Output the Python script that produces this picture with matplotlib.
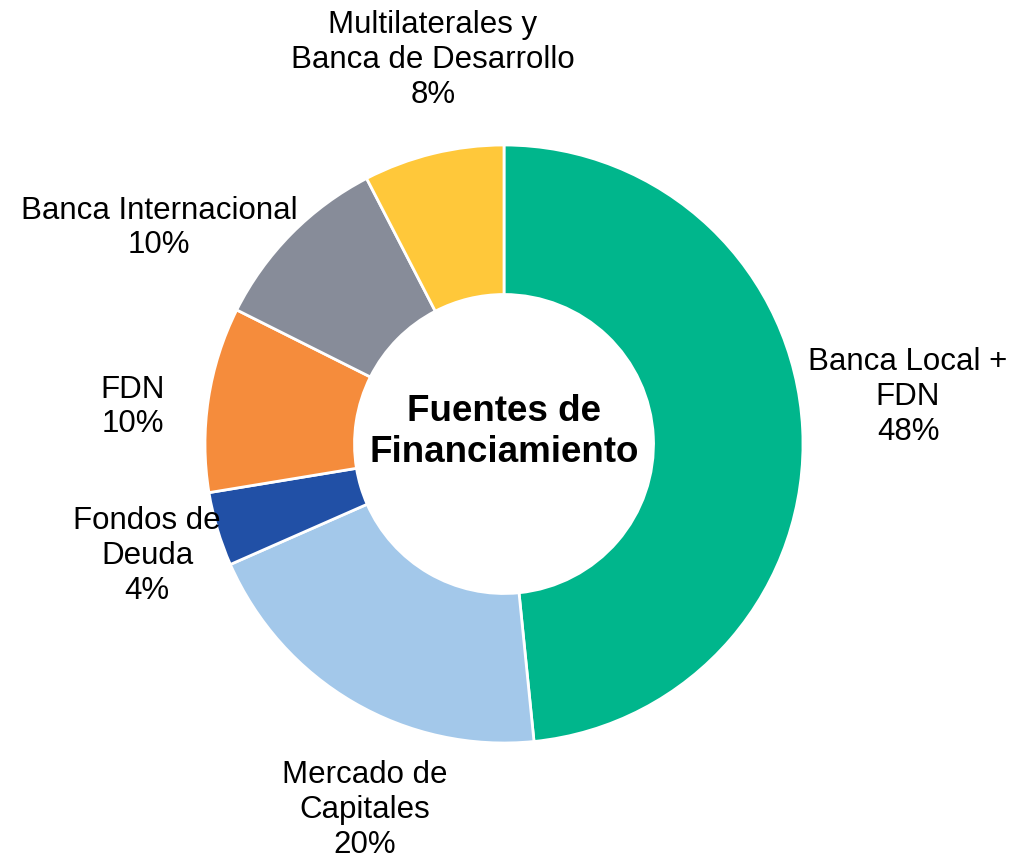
import matplotlib.pyplot as plt

# data
labels = ["Banca Local +\nFDN", "Mercado de\nCapitales", "Fondos de\nDeuda",
          "FDN", "Banca Internacional", "Multilaterales y\nBanca de Desarrollo"]
shares = [48.4, 20.0, 4.0, 10.0, 10.0, 7.6]
colors = ["#00B68C", "#A3C8EA", "#2150A6", "#F58C3C", "#878C99", "#FFC83A"]

# label centres in pixels (x, y from top)
label_pos = [(908, 397), (365, 810), (147, 556), (133, 407), (159, 228), (433, 60)]

plt.rcParams['font.family'] = ['Liberation Sans', 'DejaVu Sans']

W, H = 1025, 860
fig = plt.figure(figsize=(W / 100, H / 100), dpi=100)
ax = fig.add_axes([0, 0, 1, 1])

cx, cy, r = 504, H - 444, 299
ax.pie(shares, colors=colors, startangle=90, counterclock=False,
       center=(cx, cy), radius=r, frame=True,
       wedgeprops=dict(width=r * 0.5, edgecolor="white", linewidth=2))
ax.set_xlim(0, W)
ax.set_ylim(0, H)
ax.axis("off")

for lab, s, (x, y) in zip(labels, shares, label_pos):
    ax.text(x, H - y, f"{lab}\n{s:.0f}%", ha="center", va="center",
            fontsize=22.5, color="black", linespacing=1.2)

ax.text(cx, cy + 12, "Fuentes de\nFinanciamiento", ha="center", va="center",
        fontsize=26.5, fontweight="bold", linespacing=1.2)

fig.savefig("out.png", dpi=100)
